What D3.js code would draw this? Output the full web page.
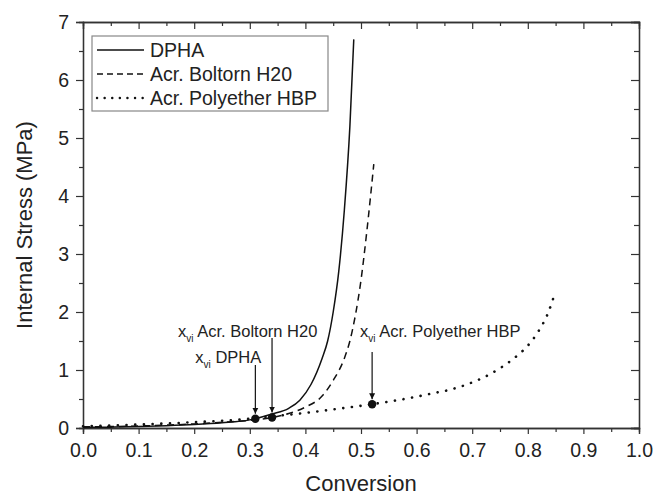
<!DOCTYPE html>
<html>
<head>
<meta charset="utf-8">
<script src="https://cdn.jsdelivr.net/npm/d3@7"></script>
<style>
  body { margin: 0; background: #fff; }
  text { font-family: "Liberation Sans", Arial, sans-serif; fill: #222; }
</style>
</head>
<body>
<div id="chart"></div>
<script>
// DPHA (solid)
const dphaX = [0, 0.05, 0.10, 0.15, 0.20, 0.25, 0.30, 0.34, 0.37, 0.39, 0.41, 0.43, 0.44, 0.45, 0.46, 0.47, 0.48, 0.487];
const dphaY = [0.01, 0.015, 0.025, 0.04, 0.06, 0.09, 0.14, 0.24, 0.34, 0.48, 0.75, 1.2, 1.5, 2.0, 2.7, 3.75, 5.2, 6.7];
// Acr. Boltorn H20 (dashed)
const boltX = [0, 0.05, 0.10, 0.15, 0.20, 0.25, 0.30, 0.34, 0.37, 0.40, 0.43, 0.45, 0.47, 0.48, 0.49, 0.50, 0.51, 0.523];
const boltY = [0.02, 0.025, 0.035, 0.05, 0.07, 0.10, 0.13, 0.18, 0.25, 0.36, 0.55, 0.82, 1.2, 1.5, 1.95, 2.55, 3.35, 4.55];
// Acr. Polyether HBP (dotted)
const polyX = [0, 0.10, 0.20, 0.30, 0.34, 0.40, 0.45, 0.52, 0.56, 0.60, 0.63, 0.66, 0.69, 0.72, 0.75, 0.78, 0.80, 0.82, 0.835, 0.85];
const polyY = [0.03, 0.06, 0.10, 0.16, 0.20, 0.26, 0.32, 0.41, 0.47, 0.54, 0.60, 0.66, 0.75, 0.87, 1.03, 1.24, 1.42, 1.68, 1.95, 2.36];

const seriesNames = ["DPHA", "Acr. Boltorn H20", "Acr. Polyether HBP"];
const seriesDash = [null, "7,5", "0.1,8.6"];

// x_vi points (vitrification conversion)
const viX = [0.31, 0.34, 0.52];
const viY = [0.16, 0.18, 0.41];
const viLabels = ["DPHA", "Acr. Boltorn H20", "Acr. Polyether HBP"];

const xTicks = [0, 0.1, 0.2, 0.3, 0.4, 0.5, 0.6, 0.7, 0.8, 0.9, 1.0];
const yTicks = [0, 1, 2, 3, 4, 5, 6, 7];

const W = 653, H = 495;
const svg = d3.select("#chart").append("svg")
  .attr("width", W).attr("height", H);

const x = d3.scaleLinear([0, 1], [83, 639]);
const y = d3.scaleLinear([0, 7], [428, 22]);

const axisColor = "#333";
const minorX = d3.range(0.05, 1, 0.1);
const minorY = d3.range(0.5, 7, 1);

function styleAxis(g) {
  g.select(".domain").attr("stroke", axisColor).attr("stroke-width", 1.3);
  g.selectAll(".tick line").attr("stroke", axisColor).attr("stroke-width", 1.2);
  g.selectAll(".tick text").attr("font-size", 19.5).attr("fill", "#222");
}

// bottom
svg.append("g").attr("transform", `translate(0,${y(0)})`)
  .call(d3.axisBottom(x).tickValues(xTicks).tickFormat(d3.format(".1f")).tickSize(6).tickPadding(9))
  .call(styleAxis);
svg.append("g").attr("transform", `translate(0,${y(0)})`)
  .call(d3.axisBottom(x).tickValues(minorX).tickFormat("").tickSize(4))
  .call(styleAxis);
// top
svg.append("g").attr("transform", `translate(0,${y(7)})`)
  .call(d3.axisBottom(x).tickValues(xTicks).tickFormat("").tickSize(7))
  .call(styleAxis);
svg.append("g").attr("transform", `translate(0,${y(7)})`)
  .call(d3.axisBottom(x).tickValues(minorX).tickFormat("").tickSize(4))
  .call(styleAxis);
// left
svg.append("g").attr("transform", `translate(${x(0)},0)`)
  .call(d3.axisLeft(y).tickValues(yTicks).tickFormat(d3.format("d")).tickSize(7).tickPadding(7))
  .call(styleAxis);
svg.append("g").attr("transform", `translate(${x(0)},0)`)
  .call(d3.axisLeft(y).tickValues(minorY).tickFormat("").tickSize(4))
  .call(styleAxis);
// right
svg.append("g").attr("transform", `translate(${x(1)},0)`)
  .call(d3.axisLeft(y).tickValues(yTicks).tickFormat("").tickSize(8))
  .call(styleAxis);
svg.append("g").attr("transform", `translate(${x(1)},0)`)
  .call(d3.axisLeft(y).tickValues(minorY).tickFormat("").tickSize(5))
  .call(styleAxis);

// axis titles
svg.append("text")
  .attr("x", (x(0) + x(1)) / 2).attr("y", 491)
  .attr("text-anchor", "middle").attr("font-size", 22)
  .text("Conversion");
svg.append("text")
  .attr("transform", `translate(32,${(y(0) + y(7)) / 2}) rotate(-90)`)
  .attr("text-anchor", "middle").attr("font-size", 22)
  .text("Internal Stress (MPa)");

// curves
const line = d3.line().x(d => x(d[0])).y(d => y(d[1])).curve(d3.curveMonotoneX);
const curves = [d3.zip(dphaX, dphaY), d3.zip(boltX, boltY), d3.zip(polyX, polyY)];
curves.forEach((pts, i) => {
  svg.append("path")
    .datum(pts)
    .attr("fill", "none")
    .attr("stroke", "#111")
    .attr("stroke-width", i === 2 ? 2.6 : 1.5)
    .attr("stroke-linecap", i === 2 ? "round" : "butt")
    .attr("stroke-dasharray", seriesDash[i])
    .attr("d", line);
});

// x_vi markers
svg.append("g").selectAll("circle")
  .data(d3.zip(viX, viY))
  .join("circle")
    .attr("cx", d => x(d[0]))
    .attr("cy", d => y(d[1]))
    .attr("r", 4.2)
    .attr("fill", "#111");

// arrows + labels
svg.append("defs").append("marker")
  .attr("id", "arrow")
  .attr("viewBox", "0 0 10 10")
  .attr("refX", 10).attr("refY", 5)
  .attr("markerWidth", 6).attr("markerHeight", 8)
  .attr("markerUnits", "userSpaceOnUse")
  .attr("orient", "auto")
  .append("path").attr("d", "M0,0L10,5L0,10Z").attr("fill", "#111");

const arrowStart = [365, 338, 352];   // pixel y of arrow tails
const labelDx = [-60, -94, -12];
const labelY = [363, 337, 337];

viX.forEach((vx, i) => {
  const px = x(vx);
  svg.append("line")
    .attr("x1", px).attr("x2", px)
    .attr("y1", arrowStart[i]).attr("y2", y(viY[i]) - 5)
    .attr("stroke", "#111").attr("stroke-width", 1.2)
    .attr("marker-end", "url(#arrow)");
  const t = svg.append("text")
    .attr("x", px + labelDx[i]).attr("y", labelY[i])
    .attr("font-size", 16.5);
  t.append("tspan").text("x");
  t.append("tspan").attr("font-size", 10).attr("dy", 5).text("vi");
  t.append("tspan").attr("dy", -5).text(" " + viLabels[i]);
});

// legend
const legend = svg.append("g");
legend.append("rect")
  .attr("x", 92).attr("y", 36).attr("width", 236).attr("height", 75)
  .attr("fill", "#fff").attr("stroke", "#888").attr("stroke-width", 1.2);
const rows = legend.selectAll("g.row")
  .data(seriesNames)
  .join("g")
    .attr("class", "row")
    .attr("transform", (d, i) => `translate(0,${50 + i * 24})`);
rows.append("line")
  .attr("x1", 97).attr("x2", 144)
  .attr("stroke", "#111")
  .attr("stroke-width", (d, i) => i === 2 ? 2.4 : 1.5)
  .attr("stroke-linecap", (d, i) => i === 2 ? "round" : "butt")
  .attr("stroke-dasharray", (d, i) => i === 1 ? "6,4" : (i === 2 ? "0.1,7.5" : null));
rows.append("text")
  .attr("x", 150).attr("y", 7)
  .attr("font-size", 19.5)
  .text(d => d);
</script>
</body>
</html>
